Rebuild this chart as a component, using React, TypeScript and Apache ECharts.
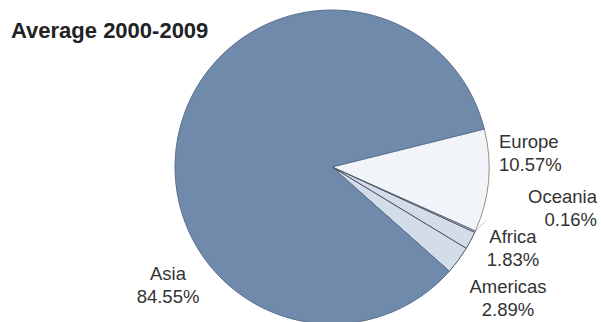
import React, { useEffect, useRef } from "react";
import * as echarts from "echarts";

const titleText = "Average 2000-2009";
const regions = ["Europe", "Oceania", "Africa", "Americas", "Asia"];
const shares = [10.57, 0.16, 1.83, 2.89, 84.55];
const fills = ["#f1f4f9", "#dfe6ef", "#d3dde9", "#d3dde9", "#6f8aab"];
const borders = ["#9a8f88", "#5b6675", "#4a5566", "#4a5566", "#5a7190"];

const labelPos: Record<string, { x: number; y: number; align: "left" | "right" | "center" }> = {
  Europe: { x: 499, y: 153, align: "left" },
  Oceania: { x: 597, y: 208, align: "right" },
  Africa: { x: 513, y: 248, align: "center" },
  Americas: { x: 508, y: 298, align: "center" },
  Asia: { x: 168, y: 285, align: "center" },
};

export default function App() {
  const ref = useRef<HTMLDivElement>(null);
  useEffect(() => {
    document.body.style.margin = "0";
    const chart = echarts.init(ref.current!, undefined, { renderer: "svg" });
    chart.setOption({
      animation: false,
      backgroundColor: "#ffffff",
      title: {
        text: titleText,
        left: 11,
        top: 19,
        padding: 0,
        textStyle: {
          fontFamily: "Liberation Sans, Arial, sans-serif",
          fontSize: 22,
          fontWeight: "bold",
          color: "#222222",
        },
      },
      series: [
        {
          type: "pie",
          center: [332, 167],
          radius: 157,
          startAngle: 14,
          clockwise: true,
          minAngle: 0,
          avoidLabelOverlap: false,
          data: regions.map((name, i) => ({
            name,
            value: shares[i],
            itemStyle: { color: fills[i], borderColor: borders[i], borderWidth: 1 },
            labelLine: { show: name === "Oceania", length: 8, length2: 0, lineStyle: { color: "#c8c8c8", width: 1 } },
          })),
          label: {
            show: true,
            position: "outside",
            formatter: (p: any) => `${p.name}\n${Number(p.value).toFixed(2)}%`,
            fontFamily: "Liberation Sans, Arial, sans-serif",
            fontSize: 18.5,
            lineHeight: 23,
            color: "#333333",
          },
          labelLayout: (params: any) => {
            const name = regions[params.dataIndex];
            const p = labelPos[name];
            const out: any = { x: p.x, y: p.y, align: p.align, verticalAlign: "middle", hideOverlap: false };
            if (name === "Oceania" && params.labelLinePoints) {
              const p0 = params.labelLinePoints[0];
              const p1 = [p0[0] + 12, p0[1] - 12];
              out.labelLinePoints = [p0, p1, p1];
            }
            return out;
          },
        },
      ],
    });
    return () => chart.dispose();
  }, []);
  return <div ref={ref} style={{ width: 601, height: 322 }} />;
}
